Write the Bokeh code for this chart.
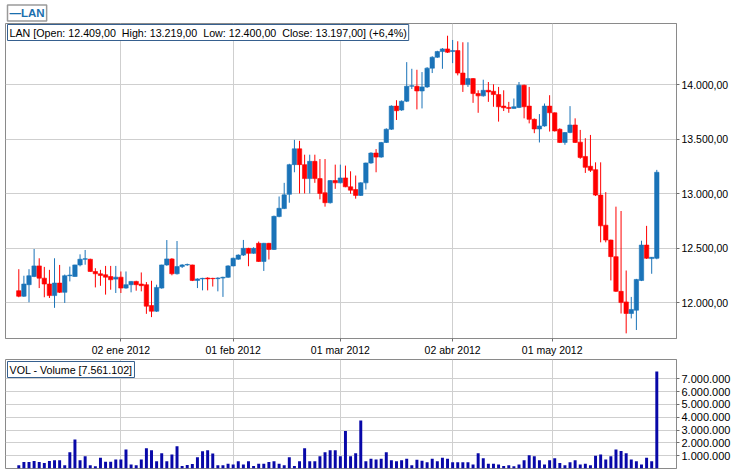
from bokeh.plotting import figure
from bokeh.models import Range1d, FixedTicker, Label, Title
from bokeh.layouts import column
from bokeh.embed import file_html
from bokeh.resources import INLINE

# ---- data (trading-day index 0..125) ----
open_ = [12112, 12061, 12167, 12242, 12339, 12227, 12173, 12067, 12182, 12097,
         12249, 12242, 12348, 12400, 12400, 12288, 12267, 12258, 12242, 12218,
         12236, 12136, 12167, 12197, 12173, 12167, 11976, 11924, 12136, 12348,
         12403, 12267, 12333, 12348, 12348, 12206, 12220, 12228, 12225, 12222,
         12228, 12235, 12339, 12401, 12438, 12500, 12454, 12546, 12380, 12546,
         12490, 12791, 12864, 12995, 13267, 13412, 13267, 13139, 13297, 13139,
         13009, 12918, 13121, 13100, 13145, 13064, 13039, 12985, 13100, 13282,
         13373, 13336, 13470, 13591, 13803, 13767, 13848, 13985, 13985, 13942,
         13979, 14151, 14251, 14303, 14327, 14303, 14312, 14106, 14000, 14055,
         13918, 13897, 13948, 13939, 13909, 13803, 13791, 13782, 13791, 13994,
         13803, 13682, 13594, 13621, 13803, 13742, 13591, 13470, 13561, 13630,
         13473, 13342, 13252, 13221, 12988, 12712, 12576, 12424, 12106, 12009,
         11903, 11933, 12206, 12530, 12406, 12409]
high = [12309, 12249, 12309, 12494, 12409, 12330, 12303, 12409, 12348, 12260,
        12333, 12350, 12445, 12485, 12405, 12318, 12303, 12339, 12339, 12339,
        12288, 12288, 12200, 12203, 12279, 12191, 12203, 12167, 12350, 12576,
        12410, 12567, 12355, 12360, 12350, 12225, 12230, 12235, 12230, 12235,
        12240, 12345, 12415, 12445, 12577, 12505, 12510, 12562, 12550, 12550,
        12800, 12975, 13100, 13275, 13494, 13485, 13358, 13358, 13358, 13318,
        13318, 13125, 13267, 13267, 13258, 13206, 13167, 13105, 13285, 13380,
        13409, 13475, 13600, 13810, 13857, 13855, 14206, 14145, 14136, 14115,
        14160, 14260, 14310, 14335, 14448, 14409, 14397, 14388, 14388, 14060,
        13948, 14045, 14024, 14003, 13979, 13948, 13842, 13873, 14024, 14000,
        13979, 13690, 13730, 13827, 13903, 13745, 13600, 13565, 13803, 13691,
        13585, 13509, 13539, 13288, 13288, 13015, 12580, 12882, 12842, 12297,
        12055, 12220, 12570, 12706, 12420, 13219]
low = [12052, 12055, 12006, 12236, 12136, 12052, 12045, 11955, 12091, 12000,
       12197, 12240, 12335, 12350, 12285, 12142, 12157, 12076, 12121, 12091,
       12091, 12130, 12097, 12112, 12106, 11900, 11870, 11918, 12130, 12340,
       12253, 12260, 12320, 12340, 12200, 12136, 12115, 12115, 12150, 12106,
       12055, 12230, 12335, 12395, 12430, 12336, 12450, 12376, 12293, 12398,
       12485, 12785, 12860, 12918, 13197, 13003, 13003, 13003, 13100, 12949,
       12882, 12910, 13045, 13095, 13060, 13000, 12955, 12980, 13039, 13275,
       13197, 13330, 13465, 13585, 13676, 13760, 13840, 13960, 13773, 13782,
       13970, 14106, 14245, 14145, 14290, 14197, 14085, 13933, 13979, 13833,
       13742, 13890, 13842, 13797, 13661, 13758, 13742, 13780, 13785, 13691,
       13645, 13555, 13470, 13615, 13570, 13570, 13465, 13449, 13555, 13465,
       13320, 13191, 13200, 12979, 12555, 12555, 12206, 12100, 11903, 11721,
       11858, 11752, 12200, 12403, 12267, 12400]
close = [12061, 12173, 12249, 12339, 12227, 12173, 12067, 12182, 12097, 12249,
         12255, 12348, 12400, 12405, 12288, 12267, 12252, 12236, 12212, 12236,
         12136, 12167, 12197, 12167, 12158, 11970, 11924, 12142, 12348, 12403,
         12267, 12333, 12348, 12352, 12206, 12220, 12225, 12220, 12222, 12228,
         12235, 12339, 12409, 12438, 12500, 12454, 12500, 12380, 12546, 12490,
         12793, 12867, 12990, 13267, 13412, 13267, 13139, 13297, 13139, 13003,
         12918, 13121, 13100, 13145, 13064, 13033, 12985, 13100, 13282, 13373,
         13336, 13470, 13591, 13803, 13761, 13848, 13985, 13990, 13942, 13979,
         14151, 14251, 14303, 14327, 14297, 14312, 14106, 14000, 14055, 13918,
         13897, 13948, 13933, 13909, 13797, 13788, 13782, 13797, 13994, 13797,
         13682, 13594, 13621, 13803, 13742, 13576, 13470, 13561, 13630, 13470,
         13333, 13242, 13215, 12988, 12706, 12576, 12424, 12106, 12003, 11903,
         11940, 12215, 12530, 12409, 12418, 13197]
volume = [250000, 500000, 500000, 580000, 500000, 430000, 580000, 640000, 640000, 250000,
          1260000, 2270000, 640000, 950000, 250000, 170000, 840000, 530000, 530000, 710000,
          710000, 1490000, 320000, 250000, 710000, 1570000, 1420000, 560000, 1180000, 560000,
          1100000, 1730000, 200000, 270000, 350000, 870000, 1340000, 1420000, 1160000, 250000,
          250000, 380000, 320000, 560000, 320000, 560000, 200000, 380000, 380000, 500000,
          560000, 380000, 250000, 870000, 200000, 560000, 1570000, 560000, 560000, 950000,
          1260000, 1420000, 1420000, 950000, 2920000, 950000, 1180000, 3750000, 560000, 770000,
          710000, 770000, 1260000, 640000, 560000, 640000, 770000, 250000, 690000, 610000,
          480000, 770000, 560000, 840000, 770000, 480000, 480000, 480000, 480000, 320000,
          1180000, 790000, 380000, 380000, 320000, 200000, 250000, 170000, 320000, 640000,
          1030000, 950000, 640000, 320000, 640000, 790000, 430000, 250000, 480000, 640000,
          320000, 380000, 250000, 1000000, 1100000, 710000, 950000, 1490000, 1360000, 1180000,
          710000, 560000, 320000, 840000, 560000, 7561102]

date_ticks = [20, 42, 63, 85, 104.5]
date_labels = ["02 ene 2012", "01 feb 2012", "01 mar 2012", "02 abr 2012", "01 may 2012"]
price_ticks = [12000, 12500, 13000, 13500, 14000]
price_labels = ["12.000,00", "12.500,00", "13.000,00", "13.500,00", "14.000,00"]
vol_ticks = [1000000, 2000000, 3000000, 4000000, 5000000, 6000000, 7000000]
vol_labels = ["1.000.000", "2.000.000", "3.000.000", "4.000.000", "5.000.000", "6.000.000", "7.000.000"]

legend_text = "\u2014LAN"
price_title = ("LAN [Open: 12.409,00\u00a0 High: 13.219,00\u00a0 Low: 12.400,00\u00a0 "
               "Close: 13.197,00] (+6,4%)")
vol_title = "VOL - Volume [7.561.102]"

# ---- styling ----
BLUE = "#1a73b8"
RED = "#ff0000"
VOLC = "#0808a8"
GRID = "#cfcfcf"
FRAME = "#8a8a8a"
FONT = "Liberation Sans"

n = len(open_)
x = list(range(n))
colors = [BLUE if c >= o else RED for o, c in zip(open_, close)]
tops = [max(o, c) for o, c in zip(open_, close)]
bots = [min(o, c) for o, c in zip(open_, close)]

x_range = Range1d(-2.606, 128.86)

W = 740
FH = 316
p = figure(width=W, height=358, x_range=x_range, y_range=Range1d(11674, 14560),
           y_axis_location="right", output_backend="svg", toolbar_location=None,
           min_border_left=5, min_border_right=64, min_border_top=23, min_border_bottom=19,
           background_fill_color="white", border_fill_color="white")
p.outline_line_color = FRAME
p.grid.grid_line_color = GRID
p.xgrid.ticker = FixedTicker(ticks=date_ticks)
p.ygrid.ticker = FixedTicker(ticks=price_ticks)

p.xaxis.ticker = FixedTicker(ticks=date_ticks)
p.xaxis.major_label_overrides = {t: l for t, l in zip(date_ticks, date_labels)}
p.yaxis.ticker = FixedTicker(ticks=price_ticks)
p.yaxis.major_label_overrides = {t: l for t, l in zip(price_ticks, price_labels)}
for ax in (p.xaxis, p.yaxis):
    ax.axis_line_color = FRAME
    ax.major_tick_line_color = "#707070"
    ax.major_tick_in = 0
    ax.major_tick_out = 3
    ax.minor_tick_line_color = None
    ax.major_label_text_font = FONT
    ax.major_label_text_font_size = "10.5px"
    ax.major_label_text_color = "#000000"
    ax.major_label_standoff = 2

p.segment(x0=x, y0=low, x1=x, y1=high, color=colors, line_width=1)
p.vbar(x=x, top=tops, bottom=bots, width=0.86, fill_color=colors, line_color=colors, line_width=0.6)

p.add_layout(Label(x=2, y=FH - 2, x_units="screen", y_units="screen", text=price_title,
                   text_baseline="top", text_font=FONT, text_font_size="10.7px",
                   text_color="#000000", background_fill_color="white",
                   border_line_color="#36608f", border_line_width=1, padding=2))
p.add_layout(Title(text=legend_text, align="left", offset=2, standoff=5,
                   text_font=FONT, text_font_size="11.5px", text_font_style="bold",
                   text_color="#1a6fae", background_fill_color="white",
                   border_line_color="#9a9a9a", border_line_width=1.5, padding=2), "above")

VH = 109
v = figure(width=W, height=111, x_range=x_range, y_range=Range1d(0, 8500000),
           x_axis_location=None, y_axis_location="right", output_backend="svg",
           toolbar_location=None, min_border_left=5, min_border_right=64,
           min_border_top=1, min_border_bottom=1,
           background_fill_color="white", border_fill_color="white")
v.outline_line_color = FRAME
v.grid.grid_line_color = GRID
v.xgrid.ticker = FixedTicker(ticks=date_ticks)
v.ygrid.ticker = FixedTicker(ticks=vol_ticks)
v.yaxis.ticker = FixedTicker(ticks=vol_ticks)
v.yaxis.major_label_overrides = {t: l for t, l in zip(vol_ticks, vol_labels)}
v.yaxis.axis_line_color = FRAME
v.yaxis.major_tick_line_color = "#707070"
v.yaxis.major_tick_in = 0
v.yaxis.major_tick_out = 3
v.yaxis.minor_tick_line_color = None
v.yaxis.major_label_text_font = FONT
v.yaxis.major_label_text_font_size = "11px"
v.yaxis.major_label_text_color = "#000000"
v.yaxis.major_label_standoff = 2

v.vbar(x=x, top=volume, bottom=0, width=0.58, fill_color=VOLC, line_color=None)
v.add_layout(Label(x=2, y=VH - 2, x_units="screen", y_units="screen", text=vol_title,
                   text_baseline="top", text_font=FONT, text_font_size="10.7px",
                   text_color="#000000", background_fill_color="white",
                   border_line_color="#36608f", border_line_width=1, padding=2))

layout = column(p, v, spacing=0)
open("out.html", "w").write(file_html(layout, INLINE))
